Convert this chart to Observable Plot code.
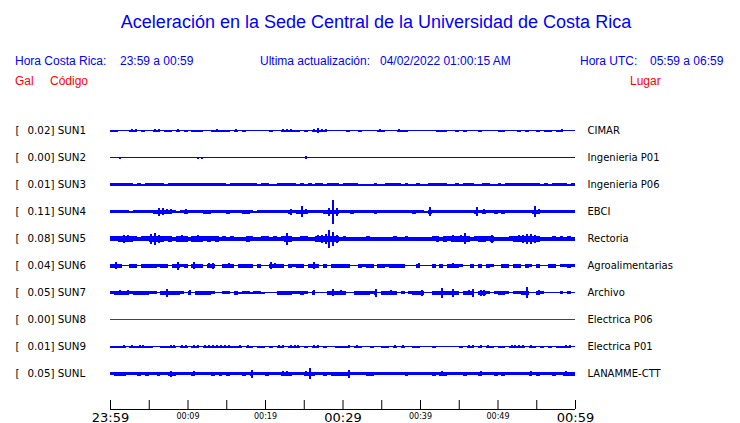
<!DOCTYPE html>
<html><head><meta charset="utf-8">
<script src="https://cdn.jsdelivr.net/npm/d3@7"></script>
<script src="https://cdn.jsdelivr.net/npm/@observablehq/plot@0.6"></script>
<style>
body{margin:0;background:#fff;width:740px;height:423px;overflow:hidden;position:relative;font-family:"Liberation Sans",Arial,sans-serif}
.h{position:absolute;white-space:pre;line-height:1}
</style></head><body>
<div id="header"></div>
<div id="chart" style="position:absolute;left:0;top:100px"></div>
<div id="axis" style="position:absolute;left:0;top:395px"></div>
<script>
// ---------------- data ----------------
const stations = ["SUN1","SUN2","SUN3","SUN4","SUN5","SUN6","SUN7","SUN8","SUN9","SUNL"];
const galPeaks = [0.02, 0.00, 0.01, 0.11, 0.08, 0.04, 0.05, 0.00, 0.01, 0.05];
const places = ["CIMAR","Ingenieria P01","Ingenieria P06","EBCI","Rectoria","Agroalimentarias","Archivo","Electrica P06","Electrica P01","LANAMME-CTT"];
const activeStation = [true, true, true, true, true, true, true, false, true, true];   // SUN8 flat (inactive)
// peak-to-peak envelope per 30-second bin (base-36 digits), 120 bins = 23:59 .. 00:59
const traces = [
  ["2211133121","1331221312","1222112322","2131211111","1211333221","2135331111","1211211113","2111322111","1111222112","1211121111","2211121211","2122123111"],
  ["1121111111","1111111111","1122111111","1111111111","1111111111","3111111111","1111111111","1111111111","1111111111","1111111111","1111111111","1111111111"],
  ["3333332323","3333233333","3333333333","2333333323","3223333323","2323323332","3333222232","2333323223","2233333223","2333223322","3233333333","3232333323"],
  ["3333323333","3487553235","3333443333","4333443233","333333634b","5333348o83","3343333343","3333333343","3293333333","3333935334","343333333b","5333333333"],
  ["5568765455","ac86564676","4676565645","4544465445","54545c6445","54478aie84","5444445444","4445445444","4445646576","7b64566584","4445678aa8","6444545454"],
  ["4741144144","4434414834","1744156114","5414444141","1754414344","1474141444","4411434414","4344441115","1114141454","3114141431","1441441431","4114413343"],
  ["3454534444","3314844431","5144443113","3142332332","1114444334","3151114745","4114444381","4454131344","61144a4484","1458166313","4431334b11","5311113131"],
  ["1111111111","1111111111","1111111111","1111111111","1111111111","1111111111","1111111111","1111111111","1111111111","1111111111","1111111111","1111111111"],
  ["2223132332","2112233133","1331333333","3223132122","1213313331","2133121122","2313211211","2213131122","1112111111","2133131321","2213333132","1212122331"],
  ["3444333434","3343364333","3533334343","4333438333","4333554333","5b43343444","4833334433","3333334333","3334354333","3433353334","3433333353","4333433544"]
].map(chunks => chunks.join(""));
const binMinutes = 0.5;
const tickMinutes = [0,5,10,15,20,25,30,35,40,45,50,55,60];
const tickLabels = ["23:59","","00:09","","00:19","","00:29","","00:39","","00:49","","00:59"];
const majorLabels = ["23:59","00:29","00:59"];

// ---------------- styling ----------------
const BLUE = "#0000ff", RED = "#ff0000";
// envelope drawn as a solid band up to this level; anything above is a narrow spike
const bandCap = {SUN1: 2, SUN2: 1, SUN3: 3, SUN4: 4, SUN5: 6, SUN6: 4, SUN7: 4, SUN8: 1, SUN9: 2, SUNL: 4};

// ---------------- header ----------------
const header = document.getElementById("header");
function htext(str, x, baseline, fs, color, center) {
  const d = document.createElement("div");
  d.className = "h";
  d.textContent = str;
  d.style.fontSize = fs + "px";
  d.style.color = color;
  d.style.top = (baseline - 0.8465 * fs) + "px";
  d.style.left = x + "px";
  if (center) d.style.transform = "translateX(-50%)";
  header.appendChild(d);
}
htext("Aceleración en la Sede Central de la Universidad de Costa Rica", 376, 28.5, 18, BLUE, true);
htext("Hora Costa Rica:", 15, 65.5, 12, BLUE);
htext("23:59 a 00:59", 120, 65.5, 12, BLUE);
htext("Ultima actualización:", 260, 65.5, 12, BLUE);
htext("04/02/2022 01:00:15 AM", 380, 65.5, 12, BLUE);
htext("Hora UTC:", 580, 65.5, 12, BLUE);
htext("05:59 a 06:59", 650, 65.5, 12, BLUE);
htext("Gal", 15, 85.5, 12, RED);
htext("Código", 50, 85.5, 12, RED);
htext("Lugar", 630, 85.5, 12, RED);

// ---------------- traces ----------------
const t0 = Date.UTC(2022, 3, 1, 23, 59);
const minute = m => new Date(t0 + m * 60000);
const samples = [];
stations.forEach((code, j) => {
  const s = traces[j];
  for (let i = 0; i <= s.length; i++) {
    const v = parseInt(s[Math.min(i, s.length - 1)], 36);
    samples.push({code, i, t: minute(i * binMinutes), mid: minute((i + 0.5) * binMinutes),
                  amp: v, band: Math.min(v, bandCap[code]), active: activeStation[j], last: i === s.length});
  }
});
const spikes = samples.filter(d => !d.last && d.amp > d.band);
const stationRows = stations.map((code, j) => ({code, gal: galPeaks[j], place: places[j]}));

const chart = Plot.plot({
  width: 740, height: 295,
  marginLeft: 110, marginRight: 165, marginTop: 17, marginBottom: 8,
  style: {fontFamily: "DejaVu Sans", fontSize: "10px", overflow: "visible", background: "transparent"},
  x: {type: "utc", domain: [minute(0), minute(60)], axis: null},
  y: {domain: [-13.5, 13.5], axis: null},
  fy: {domain: stations, padding: 0, axis: null},
  marks: [
    Plot.area(samples.filter(d => d.active), {x1: "t", y1: d => -d.band / 2, y2: d => d.band / 2, fy: "code", fill: BLUE, curve: "step-after", shapeRendering: "crispEdges"}),
    Plot.area(samples.filter(d => !d.active), {x1: "t", y1: d => -d.band / 2, y2: d => d.band / 2, fy: "code", fill: "#e00000", curve: "step-after", shapeRendering: "crispEdges"}),
    Plot.ruleX(spikes, {x: "mid", y1: d => -d.amp / 2, y2: d => d.amp / 2, fy: "code", stroke: BLUE, strokeWidth: 2, shapeRendering: "crispEdges"}),
    Plot.text(stationRows, {fy: "code", text: () => "[", frameAnchor: "left", textAnchor: "start", dx: -95, fontSize: 10.3, fill: "black"}),
    Plot.text(stationRows, {fy: "code", text: d => d.gal.toFixed(2) + "] " + d.code, frameAnchor: "left", textAnchor: "start", dx: -83, fontSize: 10.3, fill: "black"}),
    Plot.text(stationRows, {fy: "code", text: "place", frameAnchor: "right", textAnchor: "start", dx: 12, fontSize: 10, fill: "black"})
  ]
});
document.getElementById("chart").appendChild(chart);

// ---------------- time axis ----------------
const ticks = tickMinutes.map((m, i) => ({t: minute(m), label: tickLabels[i], major: majorLabels.includes(tickLabels[i])}));
const axis = Plot.plot({
  width: 740, height: 28,
  marginLeft: 110, marginRight: 165, marginTop: 5, marginBottom: 14,
  style: {fontFamily: "DejaVu Sans", overflow: "visible", background: "transparent"},
  x: {type: "utc", domain: [minute(0), minute(60)], axis: null},
  y: {domain: [0, 1], axis: null},
  marks: [
    Plot.ruleX(ticks, {x: "t", stroke: "black"}),
    Plot.ruleY([0], {stroke: "black"}),
    Plot.text(ticks.filter(d => d.major), {x: "t", text: "label", frameAnchor: "bottom", lineAnchor: "bottom", dy: 12, fontSize: 13, fill: "black"}),
    Plot.text(ticks.filter(d => !d.major && d.label), {x: "t", text: "label", frameAnchor: "bottom", lineAnchor: "bottom", dy: 9.5, fontSize: 8, fill: "black"})
  ]
});
document.getElementById("axis").appendChild(axis);
</script></body></html>
